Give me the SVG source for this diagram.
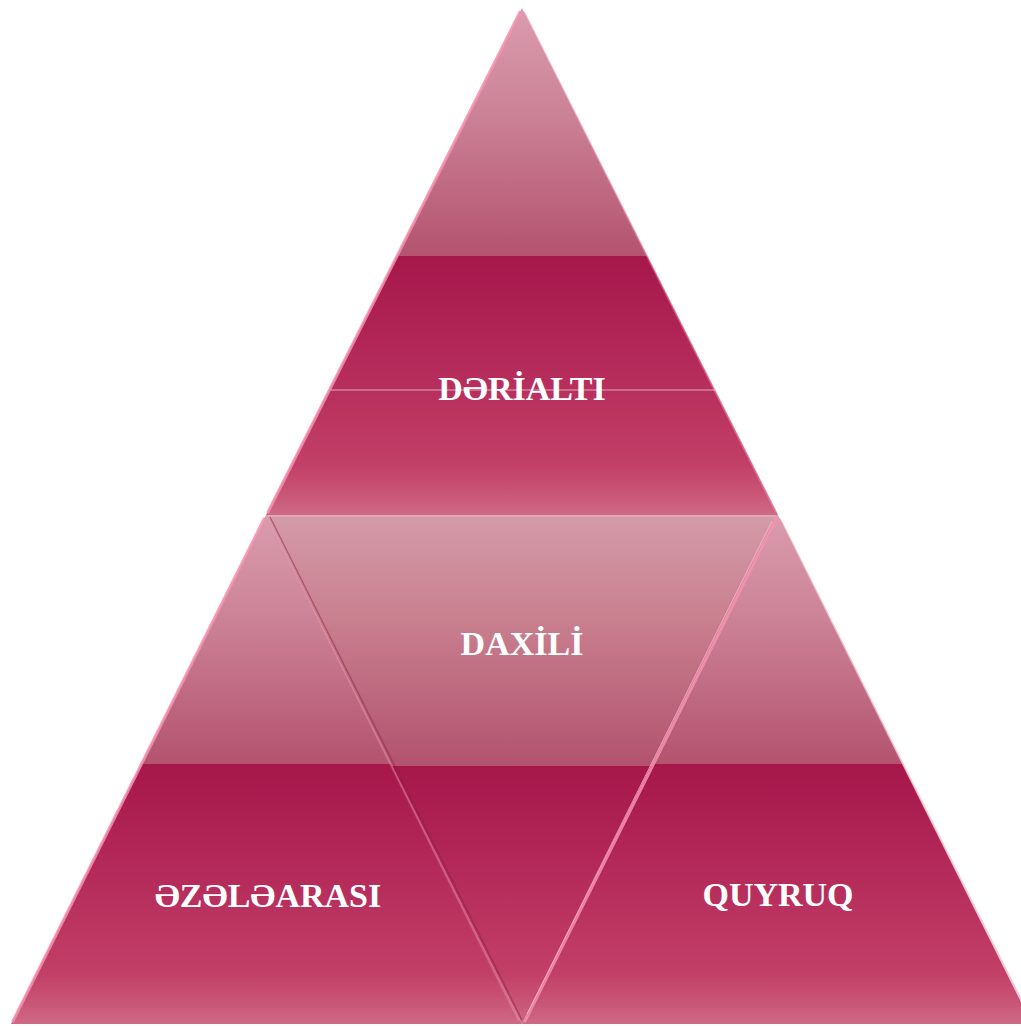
<svg xmlns="http://www.w3.org/2000/svg" width="1021" height="1026" viewBox="0 0 1021 1026">
  <defs>
    <linearGradient id="gloss" x1="0" y1="0" x2="0" y2="1">
      <stop offset="0" stop-color="#da9cae"/>
      <stop offset="0.2" stop-color="#cc8397"/>
      <stop offset="0.49" stop-color="#b4536f"/>
      <stop offset="0.49" stop-color="#a6174a"/>
      <stop offset="0.7" stop-color="#b42a5a"/>
      <stop offset="0.9" stop-color="#c23f67"/>
      <stop offset="0.96" stop-color="#c95676"/>
      <stop offset="1" stop-color="#ce6a86"/>
    </linearGradient>
    <linearGradient id="glossMid" x1="0" y1="0" x2="0" y2="1">
      <stop offset="0" stop-color="#d49ba9"/>
      <stop offset="0.2" stop-color="#c9808f"/>
      <stop offset="0.493" stop-color="#b2536f"/>
      <stop offset="0.493" stop-color="#a6174a"/>
      <stop offset="0.7" stop-color="#b42a5a"/>
      <stop offset="0.9" stop-color="#c23f67"/>
      <stop offset="0.96" stop-color="#c95676"/>
      <stop offset="1" stop-color="#ce6a86"/>
    </linearGradient>
  </defs>
  <style>
    .tri { stroke: none; }
    .hl { fill: none; stroke: #f590b0; stroke-width: 3; stroke-linecap: round; opacity: 0.85; }
    .hl2 { fill: none; stroke: #ffc0d4; stroke-width: 1; opacity: 0.7; }
    .sh { fill: none; stroke: #8a1a40; stroke-width: 1.5; opacity: 0.45; }
    .soft { fill: none; stroke: #e690aa; stroke-width: 2; opacity: 0.5; }
    .lbl { font-family: "Liberation Serif", "Times New Roman", serif; font-weight: bold; font-size: 34px; fill: #ffffff; text-anchor: middle; }
  </style>

  <g id="node-top">
    <path class="tri" d="M522,8 L266,515 L778,515 Z" fill="url(#gloss)"/>
    <path class="hl" d="M520,12 L268,512"/>
    <path class="soft" d="M524,12 L776,512"/>
    <line x1="331" y1="390" x2="716" y2="390" stroke="#f0c8d4" stroke-width="1" opacity="0.8"/>
    <text class="lbl" x="522" y="400">DƏRİALTI</text>
  </g>

  <g id="node-left">
    <path class="tri" d="M266,515 L11,1024 L522,1024 Z" fill="url(#gloss)"/>
    <path class="hl" d="M264,519 L13,1021"/>
    <path class="soft" d="M268,519 L519,1021"/>
    <text class="lbl" x="268" y="907">ƏZƏLƏARASI</text>
  </g>

  <g id="node-middle">
    <path class="tri" d="M266,515 L778,515 L522,1024 Z" fill="url(#glossMid)"/>
    <path class="sh" d="M270,517 L522,1020"/>
    <path class="hl2" d="M268,516 L776,516"/>
    <text class="lbl" x="522" y="655">DAXİLİ</text>
  </g>

  <g id="node-right">
    <path class="tri" d="M778,515 L522,1024 L1032,1024 Z" fill="url(#gloss)"/>
    <path class="hl" d="M776,519 L525,1021"/>
    <path class="hl2" d="M772,521 L527,1014"/>
    <path class="soft" d="M780,519 L1021,1000"/>
    <text class="lbl" x="778" y="906">QUYRUQ</text>
  </g>
</svg>
